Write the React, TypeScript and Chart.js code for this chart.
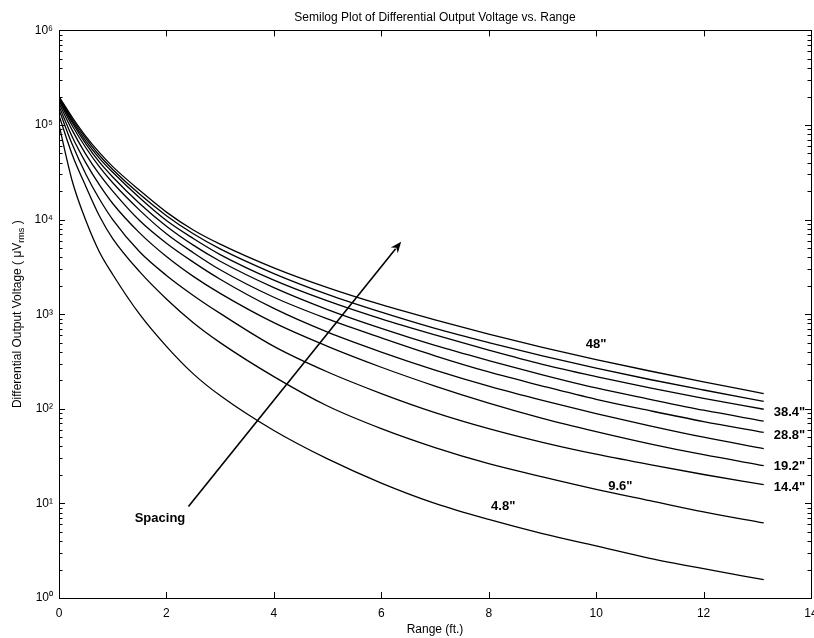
import { useEffect, useRef } from 'react';
import { Chart, registerables } from 'chart.js';

Chart.register(...registerables);

const FONT = '"Liberation Sans", Arial, Helvetica, sans-serif';

// Range in feet (x axis)
const rangeFt = [0, 0.25, 0.5, 0.75, 1, 1.5, 2, 2.5, 3, 4, 5, 6, 7, 8, 9, 10, 11, 12, 13.12];

// Differential output voltage (µVrms) for each sensor spacing
const v4_8 = [100000, 25100, 9770, 4570, 2630, 1000, 457, 234, 138, 58.9, 29.5, 16.4, 10.0, 6.76, 4.79, 3.55, 2.63, 2.04, 1.56];
const v9_6 = [126000, 47900, 22400, 11000, 6310, 2820, 1450, 813, 501, 219, 107, 61.7, 38.9, 26.3, 19.1, 14.1, 10.7, 8.13, 6.22];
const v14_4 = [145000, 61700, 30200, 16600, 10000, 4570, 2570, 1580, 1020, 457, 245, 145, 91.2, 61.7, 44.2, 33.1, 25.7, 20.2, 15.8];
const v19_2 = [158000, 74100, 39800, 23400, 14800, 7240, 4070, 2510, 1660, 813, 457, 275, 174, 115, 79.4, 57.5, 42.7, 32.7, 25.1];
const v24 = [170000, 87100, 49000, 30200, 20000, 9770, 5620, 3550, 2340, 1150, 646, 398, 257, 174, 123, 89.1, 66.1, 50.1, 38.0];
const v28_8 = [180000, 97700, 57500, 36300, 24500, 12600, 7080, 4470, 2950, 1510, 891, 562, 363, 245, 174, 126, 95.5, 73.3, 56.2];
const v33_6 = [186000, 105000, 63100, 40700, 28200, 14800, 8510, 5370, 3630, 1910, 1120, 708, 468, 324, 229, 166, 126, 96.6, 74.1];
const v38_4 = [191000, 110000, 67600, 44700, 31600, 17000, 9770, 6310, 4270, 2290, 1380, 891, 603, 417, 295, 219, 166, 129, 98.9];
const v43_2 = [195000, 115000, 72400, 47900, 33900, 18600, 11000, 7080, 4900, 2690, 1620, 1050, 708, 501, 363, 269, 204, 158, 120];
const v48 = [200000, 120000, 75900, 51300, 36300, 20400, 12000, 7760, 5500, 3090, 1910, 1260, 871, 617, 447, 331, 251, 193, 145];

const spacingNames = ['4.8"', '9.6"', '14.4"', '19.2"', '24"', '28.8"', '33.6"', '38.4"', '43.2"', '48"'];
const seriesValues = [v4_8, v9_6, v14_4, v19_2, v24, v28_8, v33_6, v38_4, v43_2, v48];

// Axis ticks
const xTickValues = [0, 2, 4, 6, 8, 10, 12, 14];
const yTickValues = [1, 10, 100, 1000, 10000, 100000, 1000000];
const yTickLabels = ['10⁰', '10¹', '10²', '10³', '10⁴', '10⁵', '10⁶'];

// Curve labels (anchored in data coordinates: ft, µV)
const noteTexts = ['48"', '38.4"', '28.8"', '19.2"', '14.4"', '9.6"', '4.8"', 'Spacing'];
const noteX = [10.0, 13.6, 13.6, 13.6, 13.6, 10.45, 8.27, 1.88];
const noteY = [480, 91.8, 52.8, 24.5, 14.8, 15.3, 9.25, 6.86];

// Arrow "Spacing" (data coordinates)
const arrowFrom = [2.41, 9.25];
const arrowTo = [6.37, 5820];

const titleText = 'Semilog Plot of Differential Output Voltage vs. Range';
const xTitle = 'Range (ft.)';
const yTitleMain = 'Differential Output Voltage ( \u03bcV';
const yTitleSub = 'rms';
const yTitleEnd = ' )';

const framePlugin = {
  id: 'frameAndNotes',
  afterDraw(chart: any) {
    const { ctx, chartArea: a } = chart;
    const x = chart.scales.x;
    const y = chart.scales.y;
    ctx.save();
    ctx.strokeStyle = '#000';
    ctx.fillStyle = '#000';
    ctx.lineWidth = 1;
    ctx.strokeRect(Math.round(a.left) + 0.5, Math.round(a.top) + 0.5, Math.round(a.right - a.left), Math.round(a.bottom - a.top));
    ctx.beginPath();
    for (const v of xTickValues) {
      const px = Math.round(x.getPixelForValue(v)) + 0.5;
      ctx.moveTo(px, a.bottom);
      ctx.lineTo(px, a.bottom - 6);
      ctx.moveTo(px, a.top);
      ctx.lineTo(px, a.top + 6);
    }
    for (let i = 0; i < yTickValues.length; i++) {
      const dec = yTickValues[i];
      const py = Math.round(y.getPixelForValue(dec)) + 0.5;
      ctx.moveTo(a.left, py);
      ctx.lineTo(a.left + 6, py);
      ctx.moveTo(a.right, py);
      ctx.lineTo(a.right - 6, py);
      if (i < yTickValues.length - 1) {
        for (let m = 2; m <= 9; m++) {
          const pm = Math.round(y.getPixelForValue(dec * m)) + 0.5;
          ctx.moveTo(a.left, pm);
          ctx.lineTo(a.left + 3.5, pm);
          ctx.moveTo(a.right, pm);
          ctx.lineTo(a.right - 3.5, pm);
        }
      }
    }
    ctx.stroke();

    ctx.font = 'bold 13px ' + FONT;
    ctx.textAlign = 'center';
    ctx.textBaseline = 'middle';
    for (let i = 0; i < noteTexts.length; i++) {
      ctx.fillText(noteTexts[i], x.getPixelForValue(noteX[i]), y.getPixelForValue(noteY[i]));
    }

    const x0 = x.getPixelForValue(arrowFrom[0]);
    const y0 = y.getPixelForValue(arrowFrom[1]);
    const x1 = x.getPixelForValue(arrowTo[0]);
    const y1 = y.getPixelForValue(arrowTo[1]);
    const ang = Math.atan2(y1 - y0, x1 - x0);
    const hl = 11;
    const hw = 4.5;
    ctx.lineWidth = 1.6;
    ctx.beginPath();
    ctx.moveTo(x0, y0);
    ctx.lineTo(x1 - Math.cos(ang) * hl * 0.8, y1 - Math.sin(ang) * hl * 0.8);
    ctx.stroke();
    ctx.beginPath();
    ctx.moveTo(x1, y1);
    ctx.lineTo(x1 - Math.cos(ang) * hl + Math.sin(ang) * hw, y1 - Math.sin(ang) * hl - Math.cos(ang) * hw);
    ctx.lineTo(x1 - Math.cos(ang) * hl * 0.7, y1 - Math.sin(ang) * hl * 0.7);
    ctx.lineTo(x1 - Math.cos(ang) * hl - Math.sin(ang) * hw, y1 - Math.sin(ang) * hl + Math.cos(ang) * hw);
    ctx.closePath();
    ctx.fill();

    const cx = 18;
    const cy = (a.top + a.bottom) / 2;
    ctx.translate(cx, cy);
    ctx.rotate(-Math.PI / 2);
    ctx.textAlign = 'left';
    ctx.textBaseline = 'middle';
    const mainFont = '12px ' + FONT;
    const subFont = '9px ' + FONT;
    ctx.font = mainFont;
    const w1 = ctx.measureText(yTitleMain).width;
    const w3 = ctx.measureText(yTitleEnd).width;
    ctx.font = subFont;
    const w2 = ctx.measureText(yTitleSub).width;
    let sx = -(w1 + w2 + w3) / 2;
    ctx.font = mainFont;
    ctx.fillText(yTitleMain, sx, 0);
    sx += w1;
    ctx.font = subFont;
    ctx.fillText(yTitleSub, sx, 4);
    sx += w2;
    ctx.font = mainFont;
    ctx.fillText(yTitleEnd, sx, 0);
    ctx.restore();
  },
};

export default function App() {
  const canvasRef = useRef<HTMLCanvasElement | null>(null);

  useEffect(() => {
    if (!canvasRef.current) return;
    const datasets = seriesValues.map((vals, i) => ({
      label: spacingNames[i],
      data: rangeFt.map((r, j) => ({ x: r, y: vals[j] })),
      borderColor: '#000',
      backgroundColor: '#000',
      borderWidth: 1.3,
      pointRadius: 0,
      pointHoverRadius: 0,
      fill: false,
      cubicInterpolationMode: 'monotone' as const,
    }));

    const chart = new Chart(canvasRef.current, {
      type: 'line',
      data: { datasets },
      plugins: [framePlugin],
      options: {
        animation: false,
        responsive: true,
        maintainAspectRatio: false,
        events: [],
        layout: { padding: { left: 0, right: 29, top: 0, bottom: 0 } },
        plugins: {
          legend: { display: false },
          tooltip: { enabled: false },
          title: {
            display: true,
            text: titleText,
            color: '#000',
            fullSize: false,
            font: { family: FONT, size: 12, weight: 'normal' },
            padding: { top: 10, bottom: 6 },
          },
        },
        scales: {
          x: {
            type: 'linear',
            min: 0,
            max: 14,
            grid: { display: false, drawTicks: false },
            border: { display: false },
            afterBuildTicks: (scale: any) => {
              scale.ticks = xTickValues.map((v) => ({ value: v }));
            },
            afterFit: (scale: any) => {
              scale.height = 40;
            },
            ticks: {
              color: '#000',
              padding: 8,
              maxRotation: 0,
              autoSkip: false,
              font: { family: FONT, size: 12 },
              callback: (v: any) => String(v),
            },
            title: {
              display: true,
              text: xTitle,
              color: '#000',
              font: { family: FONT, size: 12 },
              padding: { top: 0, bottom: 1 },
            },
          },
          y: {
            type: 'logarithmic',
            min: 1,
            max: 1000000,
            grid: { display: false, drawTicks: false },
            border: { display: false },
            afterBuildTicks: (scale: any) => {
              scale.ticks = yTickValues.map((v) => ({ value: v }));
            },
            afterFit: (scale: any) => {
              scale.width = 59;
            },
            ticks: {
              color: '#000',
              padding: 6,
              autoSkip: false,
              font: { family: FONT, size: 12 },
              callback: (v: any) => {
                const k = yTickValues.indexOf(Number(v));
                return k >= 0 ? yTickLabels[k] : '';
              },
            },
          },
        },
      } as any,
    });
    return () => chart.destroy();
  }, []);

  return (
    <div style={{ position: 'fixed', left: 0, top: 0, width: 814, height: 638, overflow: 'hidden', background: '#fff' }}>
      <div style={{ position: 'relative', width: 840, height: 638 }}>
        <canvas ref={canvasRef} />
      </div>
    </div>
  );
}
